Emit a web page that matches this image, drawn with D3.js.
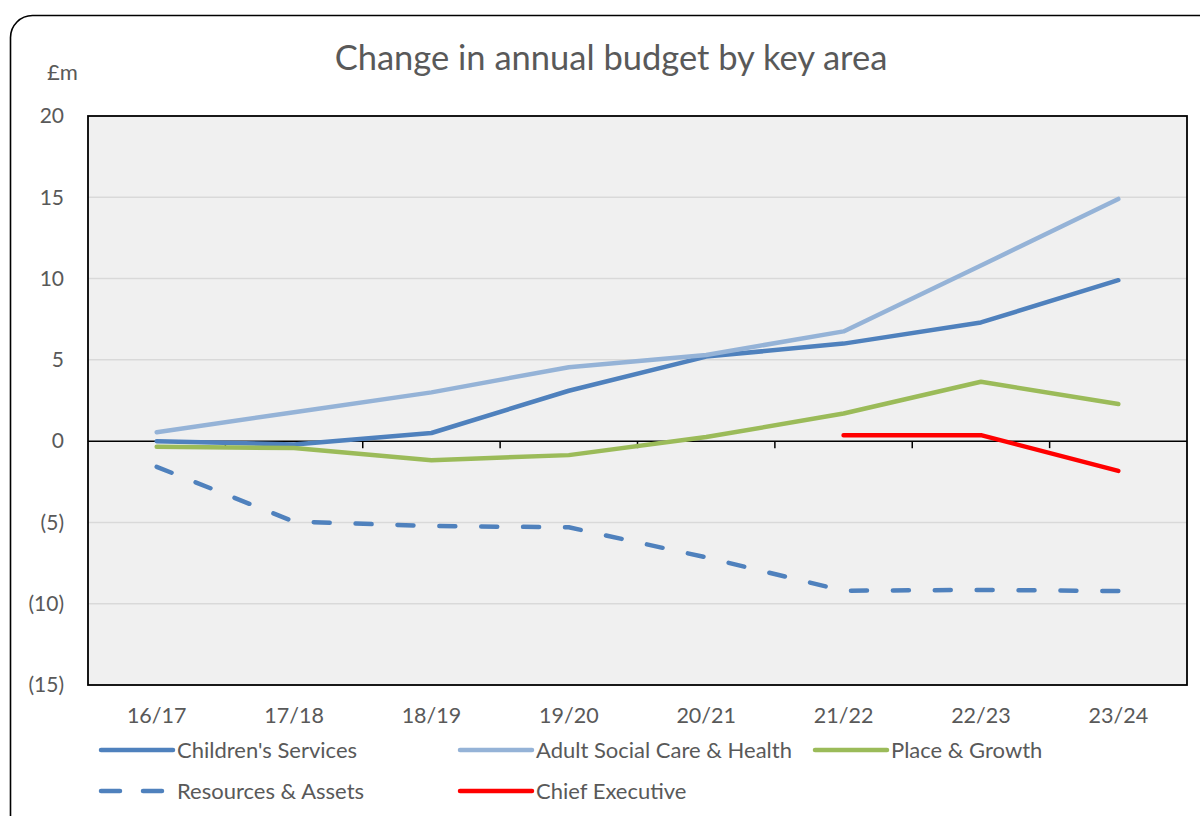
<!DOCTYPE html>
<html><head><meta charset="utf-8">
<script src="https://cdn.jsdelivr.net/npm/d3@7"></script>
<style>body{margin:0;background:#fff;} svg{display:block;}</style>
</head><body>
<svg id="c" width="1200" height="816"></svg>
<script>
const categories = ["16/17","17/18","18/19","19/20","20/21","21/22","22/23","23/24"];
const childrens = [0.0,-0.2,0.5,3.1,5.2,6.0,7.3,9.9];
const adultSocial = [0.55,1.78,3.0,4.55,5.3,6.75,10.8,14.9];
const placeGrowth = [-0.35,-0.42,-1.17,-0.86,0.25,1.7,3.65,2.28];
const resources = [-1.58,-4.95,-5.22,-5.3,-7.15,-9.2,-9.15,-9.22];
const chiefExec = [null,null,null,null,null,0.37,0.37,-1.83];
const yTicks = [20,15,10,5,0,-5,-10,-15];
const series = [
  {name:"Children's Services", values:childrens, color:"#4F81BD", dashed:false},
  {name:"Adult Social Care & Health", values:adultSocial, color:"#95B3D7", dashed:false},
  {name:"Place & Growth", values:placeGrowth, color:"#9BBB59", dashed:false},
  {name:"Resources & Assets", values:resources, color:"#4F81BD", dashed:true},
  {name:"Chief Executive", values:chiefExec, color:"#FF0000", dashed:false}
];
const font = "Lato, 'Open Sans', sans-serif";
const svg = d3.select("#c");
svg.append("rect").attr("x",10.5).attr("y",15.5).attr("width",1230).attr("height",850)
  .attr("rx",22).attr("fill","#fff").attr("stroke","#000").attr("stroke-width",1.6);

const L=88,R=1187,T=116,B=685;
const x = d3.scaleBand().domain(categories).range([L,R]);
const y = d3.scaleLinear().domain([-15,20]).range([B,T]);

svg.append("rect").attr("x",L).attr("y",T).attr("width",R-L).attr("height",B-T).attr("fill","#F0F0F0");
svg.append("g").selectAll("line").data(yTicks.filter(v=>v!==0&&v!==20&&v!==-15)).join("line")
  .attr("x1",L).attr("x2",R).attr("y1",d=>y(d)).attr("y2",d=>y(d))
  .attr("stroke","#D9D9D9").attr("stroke-width",1.5);
svg.append("g").selectAll("text").data(yTicks).join("text")
  .attr("x",64).attr("y",d=>y(d)).attr("dy","0.35em").attr("text-anchor","end")
  .attr("font-family",font).attr("font-size",21).attr("fill","#595959")
  .text(d=>d<0?"("+(-d)+")":d);
svg.append("text").attr("x",47).attr("y",80).attr("font-family",font).attr("font-size",22)
  .attr("fill","#595959").text("£m");
svg.append("line").attr("x1",L).attr("x2",R).attr("y1",y(0)).attr("y2",y(0)).attr("stroke","#000").attr("stroke-width",1.5);
svg.append("g").selectAll("line").data(categories.slice(1)).join("line")
  .attr("x1",d=>x(d)).attr("x2",d=>x(d)).attr("y1",y(0)).attr("y2",y(0)+7)
  .attr("stroke","#000").attr("stroke-width",1.5);
svg.append("rect").attr("x",L).attr("y",T).attr("width",R-L).attr("height",B-T)
  .attr("fill","none").attr("stroke","#000").attr("stroke-width",1.8);
svg.append("g").selectAll("text").data(categories).join("text")
  .attr("x",d=>x(d)+x.bandwidth()/2).attr("y",723).attr("text-anchor","middle")
  .attr("font-family",font).attr("font-size",21.5).attr("fill","#595959").text(d=>d);
const line = d3.line().defined(d=>d.v!==null).x(d=>x(d.c)+x.bandwidth()/2).y(d=>y(d.v));
series.forEach(s=>{
  const p = svg.append("path").datum(categories.map((c,i)=>({c,v:s.values[i]})))
    .attr("d",line).attr("fill","none").attr("stroke",s.color).attr("stroke-width",4.5)
    .attr("stroke-linecap","round").attr("stroke-linejoin","round");
  if (s.dashed) {
    const len = p.node().getTotalLength();
    const dash = 16;
    const n = Math.round((len - dash) / 41);
    const period = (len - dash) / n;
    p.attr("stroke-dasharray", dash + " " + (period - dash));
  }
});
svg.append("text").attr("x",611).attr("y",70).attr("text-anchor","middle")
  .attr("font-family",font).attr("font-size",34.5).attr("fill","#595959")
  .text("Change in annual budget by key area");
const legendPos = [[101,750],[460,750],[815,750],[101,791],[460,791]];
series.forEach((s,i)=>{
  const [lx,ly]=legendPos[i];
  svg.append("line").attr("x1",lx).attr("x2",lx+72).attr("y1",ly).attr("y2",ly)
    .attr("stroke",s.color).attr("stroke-width",4.5).attr("stroke-linecap","round")
    .attr("stroke-dasharray",s.dashed?"19 23":null);
  svg.append("text").attr("x",lx+76).attr("y",ly).attr("dy","0.35em")
    .attr("font-family",font).attr("font-size",22).attr("fill","#595959").text(s.name);
});
</script>
</body></html>
